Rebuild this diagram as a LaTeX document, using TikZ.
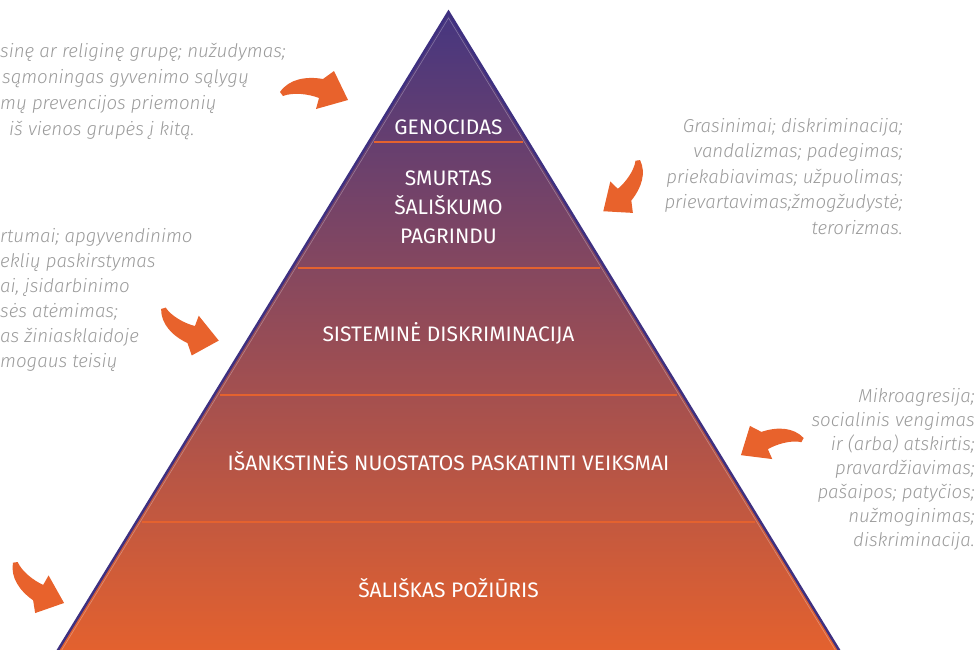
\documentclass[tikz,border=0pt]{standalone}
\usepackage{fontspec}
\setmainfont{Fira Sans}
\newfontfamily\lightit{Fira Sans Light Italic}
\usetikzlibrary{arrows.meta}
\definecolor{pyrtop}{RGB}{70,54,128}
\definecolor{pyrmid}{RGB}{158,74,102}
\definecolor{pyrbot}{RGB}{230,98,45}
\definecolor{pyredge}{RGB}{62,48,128}
\definecolor{sepc}{RGB}{228,98,47}
\definecolor{arrowc}{RGB}{232,98,44}
\definecolor{txtgray}{RGB}{155,155,155}
\tikzset{
  lvl/.style={text=white, font=\fontsize{21}{29}\selectfont, align=center, inner sep=0pt},
  note/.style={text=txtgray, font=\lightit\fontsize{18.7}{25.5}\selectfont, inner sep=0pt},
  sepline/.style={draw=sepc, line width=1.5pt},
  outline/.style={draw=pyredge, line width=2.5pt, line join=miter},
  innerline/.style={draw=white, draw opacity=0.3, line width=0.6pt},
  oarrow/.pic={\fill[arrowc] (-1,-2) .. controls (8,-15) and (25,-18) .. (42,-15)
      -- (53,-23) -- (67,6) -- (35,15) -- (38,4)
      .. controls (28,0) and (12,-2) .. (2,2) -- cycle;}
}
\begin{document}
\begin{tikzpicture}[x=1pt,y=-1pt]
\useasboundingbox (0,0) rectangle (980,649);
\coordinate (apex) at (448.5,12);
\coordinate (bl) at (50.7,662);
\coordinate (br) at (846.3,662);
% pyramid body
\begin{scope}
  \clip (apex) -- (bl) -- (br) -- cycle;
  \shade[top color=pyrtop, middle color=pyrmid, bottom color=pyrbot] (40,12) rectangle (860,662);
\end{scope}
\draw[innerline] (54.4,662) -- (448.5,18) -- (842.6,662);
% separators
\coordinate (s1l) at (374,142); \coordinate (s1r) at (523,142);
\coordinate (s2l) at (297.5,268); \coordinate (s2r) at (599.5,268);
\coordinate (s3l) at (220,395); \coordinate (s3r) at (677,395);
\coordinate (s4l) at (142,522); \coordinate (s4r) at (755,522);
\draw[sepline] (s1l) -- (s1r);
\draw[sepline] (s2l) -- (s2r);
\draw[sepline] (s3l) -- (s3r);
\draw[sepline] (s4l) -- (s4r);
\draw[outline] (bl) -- (apex) -- (br);
% level labels
\node[lvl] (genocidas) at (448.5,127) {GENOCIDAS};
\node[lvl] (smurtas) at (448.5,207) {SMURTAS\\ŠALIŠKUMO\\PAGRINDU};
\node[lvl] (sistemine) at (448.5,333) {SISTEMINĖ DISKRIMINACIJA};
\node[lvl] (isankstines) at (448.5,461) {IŠANKSTINĖS NUOSTATOS PASKATINTI VEIKSMAI};
\node[lvl] (saliskas) at (448.5,588) {ŠALIŠKAS POŽIŪRIS};
% notes
\node[note, anchor=north west, align=left, font=\lightit\fontsize{18.7}{26}\selectfont] (noteA) at (0,43)
  {sinę ar religinę grupę; nužudymas;\\
   \hspace*{2pt}sąmoningas gyvenimo sąlygų\\
   mų prevencijos priemonių\\
   \hspace*{9pt}iš vienos grupės į kitą.};
\node[note, anchor=north west, align=left, font=\lightit\fontsize{18.7}{25}\selectfont] (noteB) at (0,228)
  {rtumai; apgyvendinimo\\
   eklių paskirstymas\\
   ai, įsidarbinimo\\
   sės atėmimas;\\
   as žiniasklaidoje\\
   mogaus teisių};
\node[note, anchor=north east, align=right] (noteC) at (903,118)
  {Grasinimai; diskriminacija;\\
   vandalizmas; padegimas;\\
   priekabiavimas; užpuolimas;\\
   prievartavimas;žmogžudystė;\\
   terorizmas.};
\node[note, anchor=north east, align=right, font=\lightit\fontsize{18.7}{24}\selectfont] (noteD) at (975,388)
  {Mikroagresija;\\
   socialinis vengimas\\
   ir (arba) atskirtis;\\
   pravardžiavimas;\\
   pašaipos; patyčios;\\
   nužmoginimas;\\
   diskriminacija.};
% arrows
\pic (arrA) at (281,94) {oarrow};
\pic[rotate=-119, scale=0.92] (arrC) at (638,160) {oarrow};
\pic[rotate=-35.4, yscale=-1, scale=0.96] (arrB) at (163,308) {oarrow};
\pic[rotate=-171.4, yscale=-1, scale=0.95] (arrD) at (803,440) {oarrow};
\pic[rotate=-45, yscale=-1, scale=0.95] (arrE) at (15,562) {oarrow};
\end{tikzpicture}
\end{document}
